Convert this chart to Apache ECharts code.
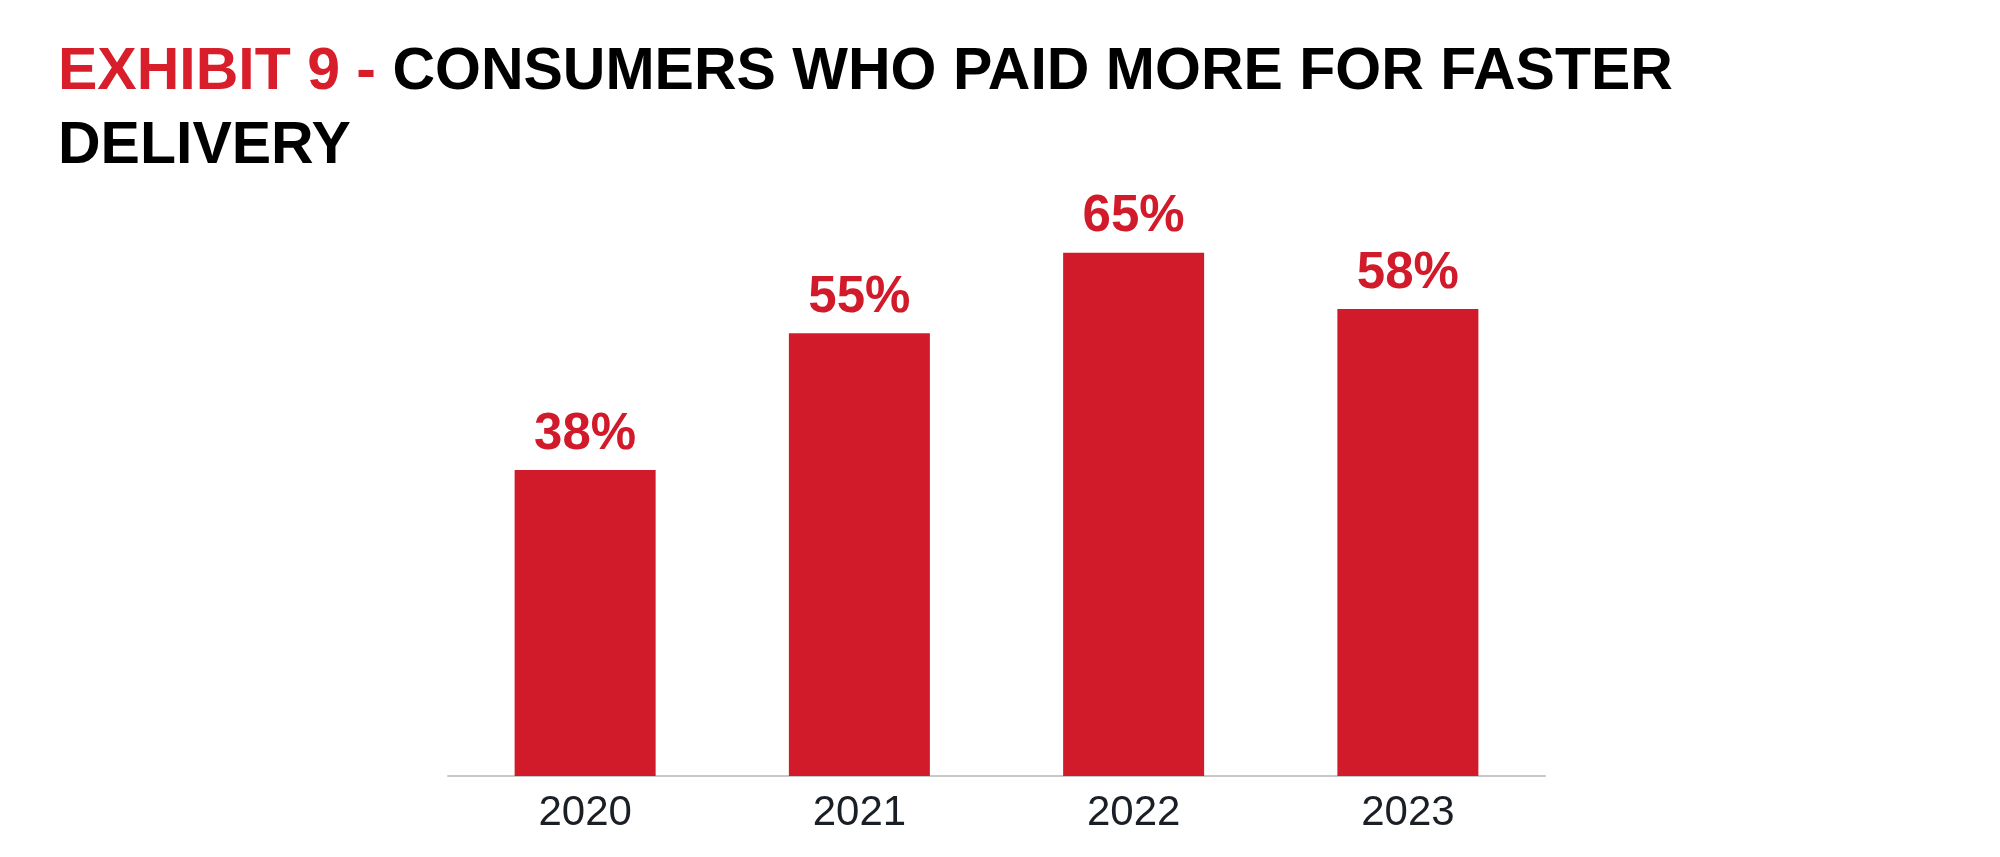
<!DOCTYPE html>
<html>
<head>
<meta charset="utf-8">
<script src="https://cdn.jsdelivr.net/npm/echarts@6/dist/echarts.min.js"></script>
<style>
html,body{margin:0;padding:0;background:#fff;}
#chart{width:2000px;height:857px;}
</style>
</head>
<body>
<div id="chart"></div>
<script>
const categories = ['2020', '2021', '2022', '2023'];
const values = [38, 55, 65, 58];
const titleRed = 'EXHIBIT 9 - ';
const titleBlack1 = 'CONSUMERS WHO PAID MORE FOR FASTER';
const titleBlack2 = 'DELIVERY';

const chart = echarts.init(document.getElementById('chart'), null, {renderer: 'canvas'});
const FONT = '"Liberation Sans", Arial, Helvetica, sans-serif';
chart.setOption({
  backgroundColor: '#ffffff',
  animation: false,
  title: {
    left: 58,
    top: 36,
    padding: 0,
    text: '{r|' + titleRed + '}{b|' + titleBlack1 + '}\n{b|' + titleBlack2 + '}',
    textStyle: {
      fontFamily: FONT,
      fontSize: 59,
      fontWeight: 'bold',
      lineHeight: 74,
      rich: {
        r: {color: '#d71e2a', fontFamily: FONT, fontSize: 59, fontWeight: 'bold', lineHeight: 74},
        b: {color: '#000000', fontFamily: FONT, fontSize: 59, fontWeight: 'bold', lineHeight: 74}
      }
    }
  },
  grid: {left: 448, right: 455, top: 132, bottom: 81, containLabel: false},
  xAxis: {
    type: 'category',
    data: categories,
    axisLine: {show: true, lineStyle: {color: '#c8c8c8', width: 2}},
    axisTick: {show: false},
    axisLabel: {color: '#1a1f26', fontFamily: FONT, fontSize: 42, margin: 16}
  },
  yAxis: {
    type: 'value',
    min: 0,
    max: 80,
    show: false,
    splitLine: {show: false}
  },
  series: [{
    type: 'bar',
    data: values,
    barWidth: 141,
    itemStyle: {color: '#d11b2a'},
    label: {
      show: true,
      position: 'top',
      distance: 10,
      formatter: '{c}%',
      color: '#d11b2a',
      fontFamily: FONT,
      fontSize: 51,
      fontWeight: 'bold'
    }
  }]
});
</script>
</body>
</html>
